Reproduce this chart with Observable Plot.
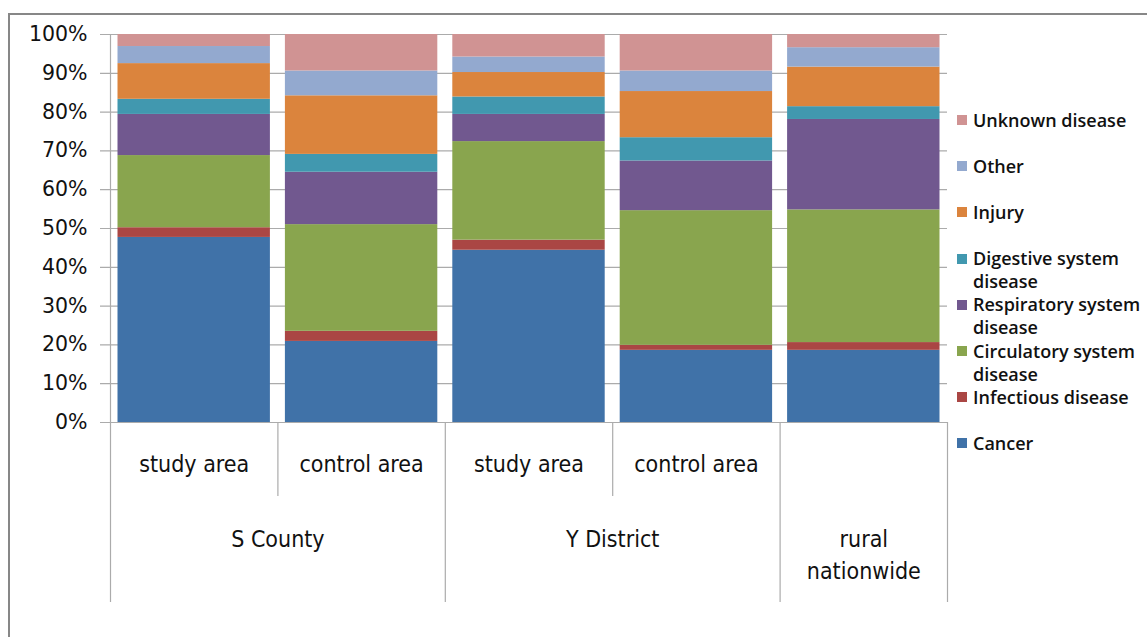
<!DOCTYPE html>
<html>
<head>
<meta charset="utf-8">
<script src="https://cdn.jsdelivr.net/npm/d3@7"></script>
<script src="https://cdn.jsdelivr.net/npm/@observablehq/plot@0.6"></script>
<style>
  html, body { margin: 0; padding: 0; background: #fff; overflow: hidden; width: 1147px; height: 637px; }
  #wrap { position: relative; width: 1147px; height: 637px; overflow: hidden; }
  #frame { position: absolute; left: 8px; top: 13px; width: 1170px; height: 680px; border: 2px solid #878787; box-sizing: border-box; }
  #chart { position: absolute; left: 0; top: 0; }
  #legend { position: absolute; left: 0; top: 0; font-family: "Open Sans", sans-serif; font-weight: 600; font-size: 18px; color: #111; }
  .item { position: absolute; left: 957px; width: 190px; }
  .sw { position: absolute; left: 0; width: 10px; height: 10px; }
  .lab { position: absolute; left: 16px; width: 176px; line-height: 23px; white-space: normal; }
</style>
</head>
<body>
<div id="wrap">
  <div id="frame"></div>
  <div id="chart"></div>
  <div id="legend"></div>
</div>
<script>
// ---- data ----
const groups = ["S County", "S County", "Y District", "Y District", "rural\nnationwide"];
const areas = ["study area", "control area", "study area", "control area", ""];
const causes = ["Cancer", "Infectious disease", "Circulatory system disease", "Respiratory system disease",
                "Digestive system disease", "Injury", "Other", "Unknown disease"];
const colors = ["#4072A8", "#AA4644", "#89A54E", "#71588F", "#4198AF", "#DB843D", "#93A9CF", "#D09393"];
const cancer      = [47.7, 20.9, 44.4, 18.6, 18.6];
const infectious  = [2.5, 2.6, 2.6, 1.3, 2.0];
const circulatory = [18.6, 27.5, 25.4, 34.7, 34.2];
const respiratory = [10.6, 13.5, 7.0, 12.8, 23.3];
const digestive   = [3.9, 4.6, 4.5, 6.0, 3.3];
const injury      = [9.2, 15.1, 6.3, 11.9, 10.2];
const other       = [4.4, 6.4, 4.0, 5.3, 5.0];
const unknown     = [3.1, 9.4, 5.8, 9.4, 3.4];
const yTickValues = [0, 10, 20, 30, 40, 50, 60, 70, 80, 90, 100];

const series = [cancer, infectious, circulatory, respiratory, digestive, injury, other, unknown];

// ---- layout constants ----
const plotTop = 34, base = 422, areaRowBottom = 496, tableBottom = 602;
const gridColor = "#ababab";

// stacked (100%) rows
const rows = [];
groups.forEach((g, i) => {
  const total = d3.sum(series, s => s[i]);
  let acc = 0;
  causes.forEach((c, k) => {
    const v = series[k][i] / total;
    rows.push({i, cause: c, y1: acc, y2: acc + v});
    acc += v;
  });
});

// group spans
const spans = [];
groups.forEach((g, i) => {
  const last = spans[spans.length - 1];
  if (last && last.name === g) last.x2 = i + 1;
  else spans.push({name: g, x1: i, x2: i + 1});
});
const longSeps = spans.map(s => s.x2);
const shortSeps = groups.map((g, i) => i).filter(i => i > 0 && groups[i] === groups[i - 1]);

const xFont = "'Liberation Sans Narrow', 'DejaVu Sans Condensed', sans-serif";

const chart = Plot.plot({
  width: 950,
  height: 610,
  marginLeft: 110,
  marginRight: 3,
  marginTop: plotTop,
  marginBottom: 610 - tableBottom,
  x: {domain: [0, groups.length], axis: null},
  y: {domain: [0, 1], range: [base, plotTop], axis: null},
  color: {domain: causes, range: colors},
  marks: [
    Plot.ruleY(yTickValues, {y: d => d / 100, stroke: gridColor, strokeWidth: 1.2, insetLeft: -10}),
    Plot.rect(rows, {x1: "i", x2: d => d.i + 1, y1: "y1", y2: "y2", fill: "cause", insetLeft: 7.5, insetRight: 7.5}),
    Plot.ruleX([0], {stroke: gridColor, strokeWidth: 1.2}),
    Plot.ruleX(longSeps, {stroke: gridColor, strokeWidth: 1.2, insetTop: base - plotTop}),
    Plot.ruleX(shortSeps, {stroke: gridColor, strokeWidth: 1.2, insetTop: base - plotTop, insetBottom: tableBottom - areaRowBottom}),
    Plot.text(yTickValues, {y: d => d / 100, text: d => d + "%", frameAnchor: "left", dx: -23, textAnchor: "end",
      fontSize: 20.5, fontFamily: "DejaVu Sans", fill: "#111"}),
    Plot.text(areas.map((a, i) => ({a, i})), {x: d => d.i + 0.5, y: () => 0, text: "a", dy: 42,
      fontSize: 23, fontFamily: xFont, fill: "#111"}),
    Plot.text(spans, {x: d => (d.x1 + d.x2) / 2, y: () => 0, text: "name", dy: 102, lineAnchor: "top",
      lineHeight: 1.39, fontSize: 23, fontFamily: xFont, fill: "#111"})
  ]
});
document.getElementById("chart").appendChild(chart);

// legend (reverse order)
const legend = document.getElementById("legend");
const legendTop = 120, legendPitch = 46.2;
causes.slice().reverse().forEach((c, j) => {
  const k = causes.indexOf(c);
  const cy = legendTop + j * legendPitch;
  const item = document.createElement("div");
  item.className = "item";
  item.style.top = (cy - 11.5) + "px";
  item.innerHTML = `<div class="sw" style="top:6.5px;background:${colors[k]}"></div><div class="lab">${c}</div>`;
  legend.appendChild(item);
});
</script>
</body>
</html>
